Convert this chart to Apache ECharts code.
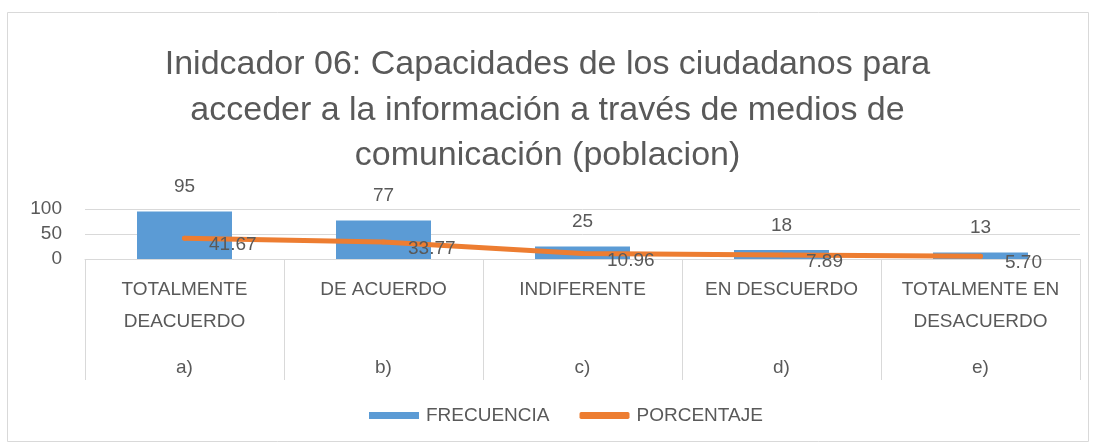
<!DOCTYPE html>
<html>
<head>
<meta charset="utf-8">
<script src="https://cdn.jsdelivr.net/npm/echarts@6/dist/echarts.min.js"></script>
<style>
  html, body { margin: 0; padding: 0; background: #fff; }
  #chart { width: 1095px; height: 448px; }
</style>
</head>
<body>
<div id="chart"></div>
<script>
const categories = ["TOTALMENTE\nDEACUERDO", "DE ACUERDO", "INDIFERENTE", "EN DESCUERDO", "TOTALMENTE EN\nDESACUERDO"];
const letters = ["a)", "b)", "c)", "d)", "e)"];
const frecuencia = [95, 77, 25, 18, 13];
const porcentaje = [41.67, 33.77, 10.96, 7.89, 5.70];

const font = "'Liberation Sans', Arial, sans-serif";
const textColor = "#595959";

const chart = echarts.init(document.getElementById("chart"));

const option = {
  backgroundColor: "#fff",
  textStyle: { fontFamily: font },
  title: {
    text: "Inidcador 06: Capacidades de los ciudadanos para\nacceder a la información a través de medios de\ncomunicación (poblacion)",
    left: "center",
    top: 37,
    textStyle: {
      fontFamily: font,
      fontSize: 34,
      fontWeight: "normal",
      color: textColor,
      lineHeight: 45.5,
      align: "center",
    },
  },
  graphic: [
    {
      type: "rect",
      shape: { x: 7.5, y: 12.5, width: 1081, height: 429 },
      style: { fill: "none", stroke: "#d9d9d9", lineWidth: 1 },
      silent: true,
    },
  ],
  legend: {
    bottom: 18,
    left: 364,
    itemGap: 30,
    itemWidth: 50,
    itemHeight: 7,
    textStyle: { fontFamily: font, fontSize: 19, color: textColor, padding: [0, 0, 0, 2] },
    data: [
      { name: "FRECUENCIA", icon: "rect" },
      { name: "PORCENTAJE", icon: "roundRect", itemStyle: { color: "#ED7D31" } },
    ],
  },
  grid: {
    left: 85,
    right: 15,
    top: 209,
    height: 50,
    containLabel: false,
  },
  xAxis: [
    {
      type: "category",
      data: categories,
      position: "bottom",
      axisLine: { lineStyle: { color: "#d9d9d9", width: 1 } },
      axisTick: {
        show: true,
        interval: 0,
        length: 121,
        lineStyle: { color: "#d9d9d9" },
      },
      axisLabel: {
        interval: 0,
        margin: 15,
        verticalAlign: "top",
        lineHeight: 32,
        fontSize: 19,
        color: textColor,
        fontFamily: font,
      },
    },
    {
      type: "category",
      data: letters,
      position: "bottom",
      axisLine: { show: false },
      axisTick: { show: false },
      axisLabel: {
        interval: 0,
        margin: 99,
        fontSize: 19,
        color: textColor,
        fontFamily: font,
      },
    },
  ],
  yAxis: {
    type: "value",
    min: 0,
    max: 100,
    interval: 50,
    axisLine: { show: false },
    axisTick: { show: false },
    axisLabel: { fontSize: 19, color: textColor, fontFamily: font, margin: 23 },
    splitLine: { lineStyle: { color: "#d9d9d9", width: 1 } },
  },
  series: [
    {
      name: "FRECUENCIA",
      type: "bar",
      data: frecuencia,
      barWidth: 95,
      itemStyle: { color: "#5B9BD5" },
      label: {
        show: true,
        position: "top",
        distance: 15,
        fontSize: 19,
        color: textColor,
        fontFamily: font,
      },
    },
    {
      name: "PORCENTAJE",
      type: "line",
      data: porcentaje,
      symbol: "circle",
      symbolSize: 5,
      showSymbol: true,
      lineStyle: { color: "#ED7D31", width: 5, cap: "round", join: "round" },
      itemStyle: { color: "#ED7D31" },
      label: {
        show: true,
        position: "right",
        distance: 22,
        offset: [0, 7],
        fontSize: 19,
        color: textColor,
        fontFamily: font,
        formatter: (p) => p.value.toFixed(2),
      },
    },
  ],
};

chart.setOption(option);
</script>
</body>
</html>
